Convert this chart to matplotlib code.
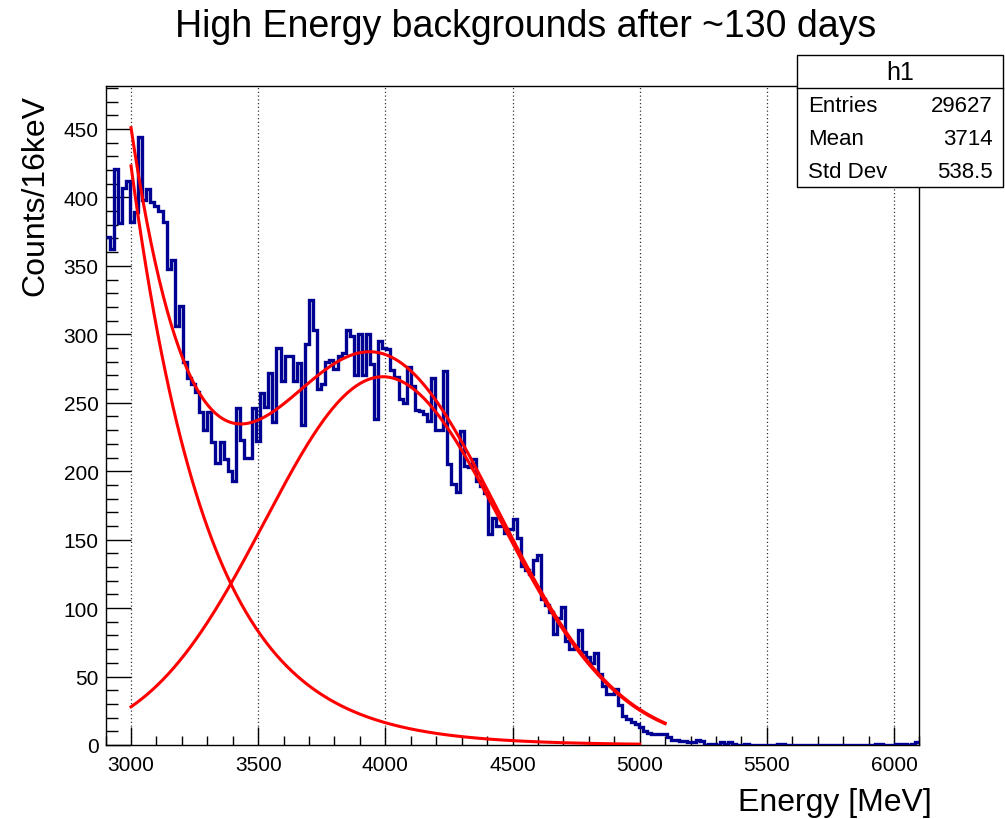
import matplotlib
matplotlib.use("Agg")
import matplotlib.pyplot as plt
import numpy as np
from matplotlib.patches import Rectangle
from matplotlib.lines import Line2D
from matplotlib.ticker import MultipleLocator

plt.rcParams['font.family'] = ['Liberation Sans', 'DejaVu Sans']

# histogram: 200 bins of 16 from 2900 to 6100
bin_lo, bin_hi, bin_w = 2900, 6100, 16
counts = [
    371, 362, 421, 381, 407, 412, 382, 389, 444, 398,
    406, 397, 394, 390, 382, 348, 354, 306, 321, 280,
    268, 264, 258, 243, 230, 243, 221, 206, 221, 209,
    200, 193, 246, 223, 210, 210, 246, 222, 257, 247,
    272, 236, 290, 266, 284, 284, 266, 279, 234, 293,
    325, 303, 260, 264, 280, 281, 275, 284, 286, 303,
    299, 270, 300, 270, 300, 278, 238, 295, 290, 289,
    274, 269, 253, 250, 276, 262, 245, 244, 242, 237,
    268, 230, 230, 273, 205, 191, 185, 229, 204, 203,
    209, 193, 189, 184, 154, 166, 160, 160, 155, 158,
    165, 151, 131, 128, 125, 135, 139, 107, 102, 97,
    81, 93, 101, 76, 70, 72, 84, 68, 64, 60,
    67, 52, 43, 37, 37, 41, 29, 21, 19, 17,
    15, 13, 10, 9, 8, 8, 8, 8, 6, 4,
    4, 3, 3, 2, 2, 4, 3, 0, 1, 1,
    0, 2, 1, 2, 1, 0, 0, 1, 0, 0,
    0, 0, 0, 0, 0, 1, 1, 0, 0, 0,
    0, 0, 0, 0, 0, 0, 0, 0, 0, 0,
    0, 0, 0, 0, 0, 0, 0, 0, 0, 1,
    1, 0, 0, 0, 1, 1, 1, 0, 1, 2,
]

# fit components
exp_amp, exp_x0, exp_tau = 423.0, 3000.0, 307.0
gaus_amp, gaus_mu, gaus_sigma = 269.0, 3990.0, 465.0
fit_range = (3000, 5100)
exp_range = (3000, 5000)

stat_title = 'h1'
stat_rows = [('Entries', '29627'), ('Mean', '3714'), ('Std Dev', '538.5')]

W, H = 1005, 820
fig = plt.figure(figsize=(W / 100, H / 100), dpi=100)


def fx(px):
    return px / W


def fy(py):
    return 1 - py / H


ax = fig.add_axes([fx(105.6), fy(746), fx(919.4) - fx(105.6), fy(87) - fy(746)])

edges = np.arange(bin_lo, bin_hi + bin_w, bin_w)
ax.stairs(counts, edges, baseline=None, color='#000092', lw=2.4, zorder=3)


def expo(x):
    return exp_amp * np.exp(-(x - exp_x0) / exp_tau)


def gaus(x):
    return gaus_amp * np.exp(-0.5 * ((x - gaus_mu) / gaus_sigma) ** 2)


xf = np.linspace(*fit_range, 400)
xe = np.linspace(*exp_range, 400)
ax.plot(xe, expo(xe), color='red', lw=2.2, zorder=4)
ax.plot(xf, gaus(xf), color='red', lw=2.2, zorder=4)
ax.plot(xf, expo(xf) + gaus(xf), color='red', lw=2.2, zorder=4)

ax.set_xlim(bin_lo, bin_hi)
ax.set_ylim(0, (746 - 87) / 1.369)
ax.xaxis.set_major_locator(MultipleLocator(500))
ax.xaxis.set_minor_locator(MultipleLocator(100))
ax.yaxis.set_major_locator(MultipleLocator(50))
ax.yaxis.set_minor_locator(MultipleLocator(10))
ax.tick_params(axis='x', which='major', direction='in', length=13, width=1, labelsize=15, pad=7)
ax.tick_params(axis='x', which='minor', direction='in', length=6.5, width=1)
ax.tick_params(axis='y', which='major', direction='in', length=18, width=1, labelsize=15, pad=5)
ax.tick_params(axis='y', which='minor', direction='in', length=8.5, width=1)
ax.grid(axis='x', which='major', color='#333333', ls=(0, (1, 2)), lw=0.9)
for s in ax.spines.values():
    s.set_linewidth(1)

fig.text(fx(526), fy(27), 'High Energy backgrounds after ~130 days', fontsize=27,
         ha='center', va='center')
fig.text(fx(35), fy(95), 'Counts/16keV', fontsize=23, rotation=90, ha='center', va='top')
fig.text(fx(932), fy(803), 'Energy [MeV]', fontsize=23, ha='right', va='center')

# stats box
bx0, by0, bx1, by1 = 797, 56, 1003, 188
fig.add_artist(Rectangle((fx(bx0), fy(by1)), fx(bx1) - fx(bx0), fy(by0) - fy(by1),
                         transform=fig.transFigure, facecolor='white', edgecolor='black',
                         lw=1, zorder=10))
fig.add_artist(Line2D([fx(bx0), fx(bx1)], [fy(89), fy(89)], transform=fig.transFigure,
                      color='black', lw=1, zorder=11))
fig.text(fx(900), fy(73), stat_title, fontsize=18, ha='center', va='center', zorder=12)
for i, (name, val) in enumerate(stat_rows):
    yy = 106 + i * 33.5
    fig.text(fx(808), fy(yy), name, fontsize=16, ha='left', va='center', zorder=12)
    fig.text(fx(993), fy(yy), val, fontsize=16, ha='right', va='center', zorder=12)

fig.savefig('out.png', dpi=100)
